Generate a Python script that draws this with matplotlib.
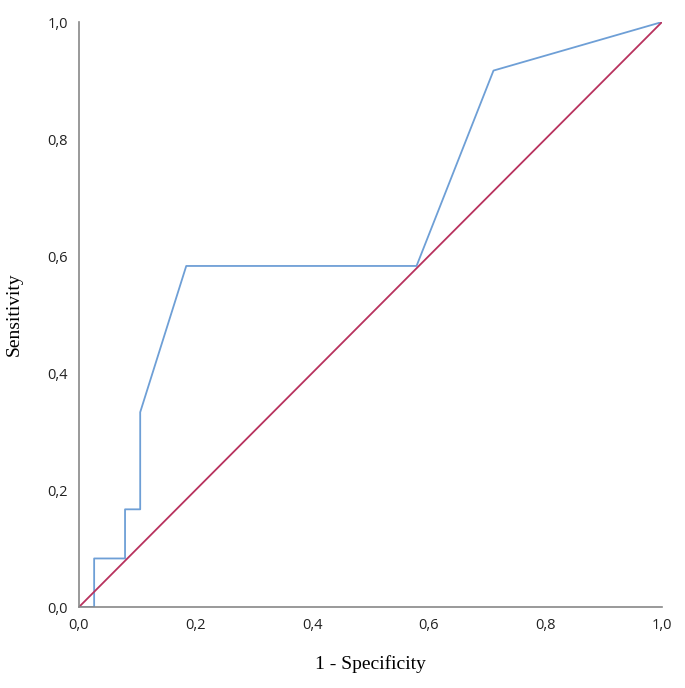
import matplotlib
matplotlib.use('Agg')
import matplotlib.pyplot as plt
from matplotlib.ticker import FuncFormatter

# ROC curve points
fpr = [0.0, 0.026, 0.026, 0.079, 0.079, 0.105, 0.105, 0.184, 0.579, 0.711, 1.0]
tpr = [0.0, 0.0, 0.083, 0.083, 0.167, 0.167, 0.333, 0.583, 0.583, 0.917, 1.0]
ref_x = [0.0, 1.0]
ref_y = [0.0, 1.0]
ticks = [0.0, 0.2, 0.4, 0.6, 0.8, 1.0]

fig = plt.figure(figsize=(6.85, 6.88), dpi=100)
ax = fig.add_axes([0.1153, 0.1177, 0.8511, 0.8503])

ax.plot(fpr, tpr, color='#6e9fd6', linewidth=1.3)
ax.plot(ref_x, ref_y, color='#b8325e', linewidth=1.3)

ax.set_xlim(0, 1)
ax.set_ylim(0, 1)
ax.set_xticks(ticks)
ax.set_yticks(ticks)
fmt = FuncFormatter(lambda v, p: ('%.1f' % v).replace('.', ','))
ax.xaxis.set_major_formatter(fmt)
ax.yaxis.set_major_formatter(fmt)
ax.tick_params(length=0, labelsize=10.5, colors='#222222', pad=8)
for lab in ax.get_xticklabels() + ax.get_yticklabels():
    lab.set_family('Open Sans')

for s in ['top', 'right']:
    ax.spines[s].set_visible(False)
for s in ['left', 'bottom']:
    ax.spines[s].set_color('#888888')
    ax.spines[s].set_linewidth(1.2)

ax.set_xlabel('1 - Specificity', family='Liberation Serif', fontsize=14, labelpad=16)
ax.set_ylabel('Sensitivity', family='Liberation Serif', fontsize=14, labelpad=18)

fig.savefig('out.png', dpi=100)
